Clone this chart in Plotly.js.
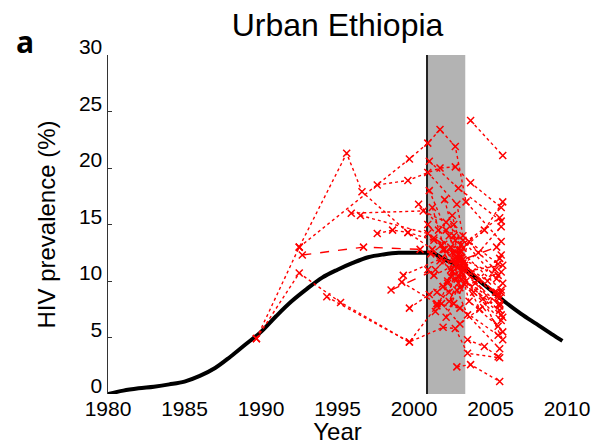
<!DOCTYPE html>
<html>
<head>
<meta charset="utf-8">
<script src="https://cdn.plot.ly/plotly-3.0.1.min.js"></script>
<style>html,body{margin:0;padding:0;background:#fff;}#chart{width:600px;height:445px;}</style>
</head>
<body>
<div id="chart"></div>
<script>
// Model curve (black)
const modelYears = [1980,1981,1982,1983,1984,1985,1986,1987,1988,1989,1990,1991,1992,1993,1994,1995,1996,1997,1998,1999,2000,2001,2001.3,2002,2003,2004,2005,2006,2007,2008,2009,2009.7];
const modelPrev  = [0,0.3,0.5,0.65,0.85,1.1,1.6,2.3,3.3,4.4,5.5,6.9,8.2,9.3,10.3,11.0,11.6,12.1,12.35,12.5,12.5,12.5,12.45,11.9,11.3,10.3,9.2,8.1,7.1,6.2,5.3,4.7];

// Observed site series (red): years and prevalence per site
const siteYears = [
  [1989.7,1992.5,1995.6,1996.6,1999.6,2001.2,2002.4,2003.1,2005.6],
  [1989.7,1992.5,1995.2,1999.7,2001.9,2002.7,2003.5,2005.6],
  [1992.7,1996.7,2000.4,2002.6,2005.4],
  [1992.5,1999.7,2000.9,2001.7,2002.7,2003.4,2005.7],
  [2003.7,2005.8],
  [1997.6,1999.6,2001.7,2002.7,2003.7,2005.7],
  [1997.6,1998.6,1999.6,2001.3,2002.6,2005.5],
  [2000.9,2002.9,2005.6],
  [2001.0,2002.1,2003.0,2005.5],
  [2001.3,2002.8,2003.9,2005.7],
  [2001.5,2002.3,2003.2,2005.6],
  [2001.2,2002.0,2002.9,2004.2,2005.7],
  [2001.8,2002.7,2003.6,2005.5],
  [2000.9,2001.9,2002.6,2003.3,2005.8],
  [2001.6,2002.5,2003.1,2005.7],
  [2002.0,2002.7,2003.3,2004.8,2005.6],
  [2001.4,2002.2,2003.0,2004.5,2005.8],
  [2000.9,2002.8,2003.2,2005.3],
  [2001.7,2002.4,2003.0,2005.7],
  [2002.3,2002.9,2003.6,2005.5],
  [2001.1,2002.6,2003.2,2004.3,2005.8],
  [1998.5,2001.4,2002.5,2003.0,2005.4],
  [1999.7,2001.0,2002.2,2003.1,2005.6],
  [1996.5,2000.9,2002.7,2003.3,2005.7],
  [2002.1,2002.8,2003.5,2005.6],
  [2001.9,2002.5,2003.2,2004.0,2005.7],
  [2002.6,2003.2,2004.6,2005.8],
  [2001.3,2002.9,2003.8,2005.5],
  [1999.3,2001.8,2002.9,2003.2],
  [2000.3,2002.3,2003.1,2005.8],
  [2001.8,2003.0,2005.7],
  [1995.9,2000.6,2002.1,2003.2,2005.4],
  [1994.3,1999.7,2001.5,2002.9,2005.6],
  [2002.4,2002.9,2003.4,2005.8],
  [2003.5,2004.6,2005.5],
  [2002.8,2003.7,2005.6],
  [2001.0,2002.9,2005.7],
  [1999.2,2001.5,2003.0,2005.5]
];
const sitePrev = [
  [4.9,13.0,21.3,17.9,14.3,12.8,11.0,10.2,8.0],
  [4.9,10.7,8.1,4.6,5.9,5.8,3.6,3.2],
  [12.3,13.0,12.8,11.6,9.0],
  [13.0,20.8,22.2,23.4,21.9,17.0,13.5],
  [24.2,21.1],
  [18.5,18.9,20.0,20.1,18.7,16.5],
  [14.2,14.5,14.3,13.6,11.9,8.6],
  [15.0,12.0,8.5],
  [18.0,14.5,12.0,10.5],
  [10.5,11.5,9.0,6.5],
  [9.0,8.2,11.0,7.8],
  [16.5,12.8,11.2,12.5,14.8],
  [13.2,10.2,13.5,11.5],
  [11.0,9.5,8.0,9.7,5.5],
  [14.5,15.8,12.6,9.2],
  [17.2,13.6,11.4,10.0,12.0],
  [7.3,9.8,12.2,8.4,4.8],
  [19.6,16.8,14.0,11.0],
  [11.8,13.0,9.4,10.8],
  [9.0,11.8,8.2,6.0],
  [12.4,14.0,10.6,7.5,9.8],
  [9.2,11.0,12.5,11.8,13.0],
  [7.6,8.8,10.0,13.2,15.6],
  [15.8,14.2,12.0,11.2,7.0],
  [6.8,9.2,7.0,4.0],
  [12.8,10.8,11.6,9.8,12.3],
  [15.0,12.9,14.5,17.0],
  [13.8,12.4,10.8,8.8],
  [10.5,12.0,9.8,11.9],
  [16.8,14.0,10.8,11.4],
  [8.0,6.2,9.0],
  [16.0,16.2,15.2,13.6,10.2],
  [8.6,4.6,7.8,10.4,7.4],
  [10.4,12.8,10.0,6.8],
  [4.8,4.2,3.3],
  [2.4,2.6,1.1],
  [20.6,18.2,15.3],
  [9.9,8.0,7.6,5.2]
];
const siteDash = ['dot','dot','dash','dot','dot','dot','dot','dash','dot','dot','dashdot','dot','dot','dash','dot','dot','dot','dot','dashdot','dot','dot','dash','dot','dot','dot','dot','dot','dash','dot','dot','dot','dot','dot','dot','dot','dot','dot','dot'];

const xTicks = [1980,1985,1990,1995,2000,2005,2010];
const yTicks = [0,5,10,15,20,25,30];
const bandStart = 2000.85, bandEnd = 2003.35;

const FONT = 'Liberation Sans, Arial, Helvetica, sans-serif';
const traces = [];
traces.push({x: modelYears, y: modelPrev, type:'scatter', mode:'lines',
  line:{color:'#000', width:4, shape:'spline'}, hoverinfo:'skip', showlegend:false});
siteYears.forEach((ys, i) => {
  traces.push({x: ys, y: sitePrev[i], type:'scatter', mode:'lines+markers',
    line:{color:'#ff0000', width:1.4, dash: siteDash[i]},
    marker:{symbol:'x-thin', size:7, color:'#ff0000', line:{color:'#ff0000', width:1.5}},
    showlegend:false, hoverinfo:'skip'});
});

const layout = {
  width:600, height:445,
  margin:{l:108, r:33, t:55, b:51},
  paper_bgcolor:'#fff', plot_bgcolor:'#fff',
  font:{family:FONT, color:'#000'},
  showlegend:false,
  title:{text:'Urban Ethiopia', font:{family:FONT, size:32, color:'#000'},
    xref:'paper', x:0.5, xanchor:'center', yref:'container', y:0.945, yanchor:'middle'},
  xaxis:{range:[1980,2010], tickvals:xTicks, ticktext:xTicks.map(String), ticks:'',
    showline:false, showgrid:false, zeroline:false,
    tickfont:{family:FONT, size:21, color:'#000'},
    title:{text:'Year', font:{family:FONT, size:24, color:'#000'}, standoff:2}},
  yaxis:{range:[0,30], tickvals:yTicks, ticktext:yTicks.map(String), ticks:'inside', ticklen:4,
    tickcolor:'#333', showline:true, linecolor:'#333', linewidth:1.5,
    showgrid:false, zeroline:false, ticklabelshift:-8,
    tickfont:{family:FONT, size:21, color:'#000'},
    title:{text:'HIV prevalence (%)', font:{family:FONT, size:24, color:'#000'}, standoff:16}},
  shapes:[
    {type:'rect', xref:'x', yref:'y', x0:bandStart, x1:bandEnd, y0:0, y1:30,
      fillcolor:'#b3b3b3', line:{width:0}, layer:'below'},
    {type:'line', xref:'x', yref:'y', x0:bandStart, x1:bandStart, y0:0, y1:30,
      line:{color:'#222', width:2}, layer:'below'}
  ],
  annotations:[
    {text:'<b>a</b>', xref:'paper', yref:'paper', x:-0.181, y:1.04, xanchor:'center', yanchor:'middle',
      showarrow:false, font:{family:'Open Sans, Noto Sans, sans-serif', size:30, color:'#000'}}
  ]
};

Plotly.newPlot('chart', traces, layout, {displayModeBar:false, staticPlot:true});
</script>
</body>
</html>
